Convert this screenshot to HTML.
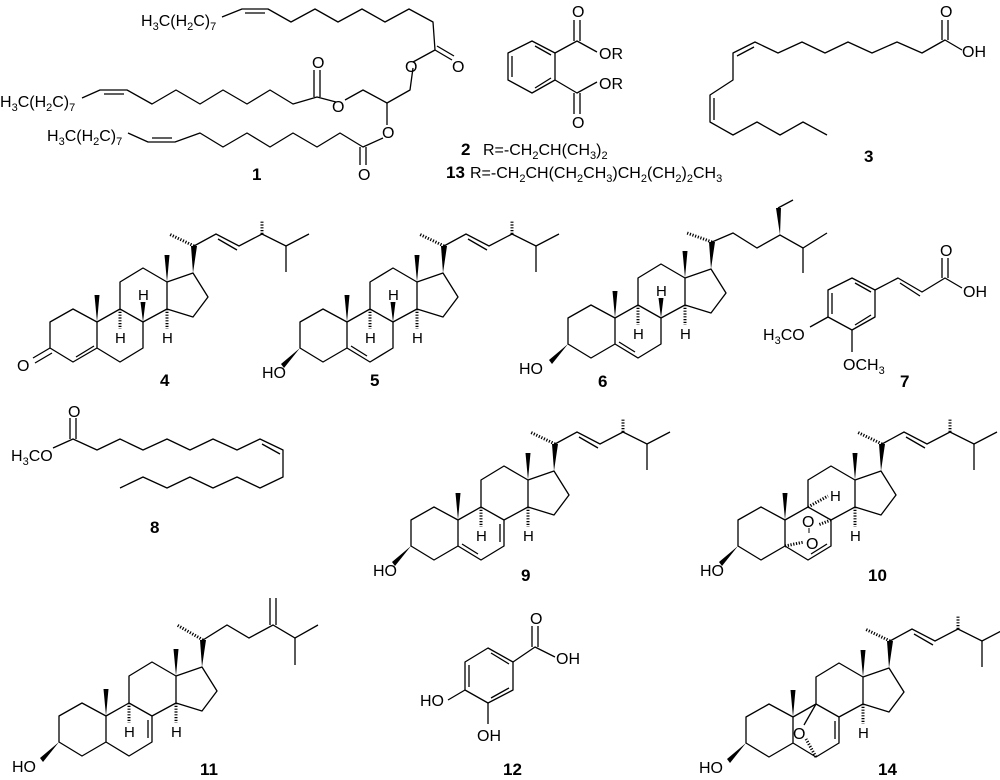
<!DOCTYPE html>
<html><head><meta charset="utf-8"><style>
html,body{margin:0;padding:0;background:#fff;}
svg{display:block;font-family:"Liberation Sans",sans-serif;}
.b{font-weight:bold;font-size:17px;}
.t{font-size:16px;}
.h{font-size:15px;}
</style></head><body>
<svg width="1000" height="780" viewBox="0 0 1000 780" xmlns="http://www.w3.org/2000/svg">
<g fill="none" stroke="#000" stroke-width="1.3" stroke-linejoin="round">
<!-- Compound 1 -->
<polyline points="222,17 242,9 268,9 291,22 315,9 338,22 362,9 385,22 409,9 433,22 435,50 413,62"/>
<line x1="245" y1="13" x2="265" y2="13"/>
<line x1="435" y1="50" x2="452" y2="60"/><line x1="437" y1="46" x2="454" y2="56"/>
<polyline points="413,68 410,90 387,103 363,90 345,100"/>
<polyline points="336,102 317,97 293,104 270,90 247,104 223,90 200,104 176,90 152,104 127,90 100,90 82,98"/>
<line x1="104" y1="94" x2="124" y2="94"/>
<line x1="314" y1="97" x2="314" y2="70"/><line x1="320" y1="97" x2="320" y2="70"/>
<polyline points="387,103 387,125"/>
<polyline points="383,138 363,147 340,133 317,147 293,133 270,147 247,133 223,147 200,133 175,142 148,142 128,133"/>
<line x1="152" y1="138" x2="172" y2="138"/>
<line x1="360" y1="147" x2="360" y2="165"/><line x1="366" y1="147" x2="366" y2="165"/>
<!-- Compound 2 -->
<polygon points="508,53 532,41 555,53 555,80 532,93 508,80"/>
<line x1="512" y1="56" x2="512" y2="77"/><line x1="535" y1="46" x2="551" y2="55"/><line x1="535" y1="88" x2="551" y2="78"/>
<polyline points="555,53 577,41 597,52"/><polyline points="555,80 577,93 597,82"/>
<line x1="574" y1="41" x2="574" y2="20"/><line x1="580" y1="41" x2="580" y2="20"/>
<line x1="574" y1="93" x2="574" y2="114"/><line x1="580" y1="93" x2="580" y2="114"/>
<!-- Compound 3 -->
<polyline points="827,135 803,122 780,135 757,122 733,135 710,122 710,95 733,80 733,53 755,42 778,53 802,42 825,53 848,42 872,53 897,42 922,53 945,40 962,50"/>
<line x1="714" y1="98" x2="714" y2="120"/><line x1="737" y1="56" x2="754" y2="47"/>
<line x1="942" y1="40" x2="942" y2="20"/><line x1="948" y1="40" x2="948" y2="20"/>
<!-- Compound 7 -->
<polygon points="828,290 852,278 875,290 875,317 852,330 828,317"/>
<line x1="832" y1="293" x2="832" y2="314"/><line x1="855" y1="283" x2="871" y2="292"/><line x1="855" y1="325" x2="871" y2="315"/>
<polyline points="875,290 898,278 922,292 945,278 962,288"/>
<line x1="900" y1="283" x2="920" y2="296"/>
<line x1="942" y1="278" x2="942" y2="258"/><line x1="948" y1="278" x2="948" y2="258"/>
<line x1="828" y1="317" x2="810" y2="327"/><line x1="852" y1="330" x2="852" y2="352"/>
<!-- Compound 8 -->
<polyline points="53,448 73,439 97,450 120,439 143,450 167,439 190,450 213,439 237,450 260,439 283,450 283,477 260,488 237,477 213,488 190,477 167,488 143,477 120,488"/>
<line x1="262" y1="444" x2="280" y2="454"/>
<line x1="70" y1="439" x2="70" y2="418"/><line x1="76" y1="439" x2="76" y2="418"/>
<!-- Compound 12 -->
<polygon points="465,662 488,648 513,662 513,690 488,703 465,690"/>
<line x1="469" y1="665" x2="469" y2="687"/><line x1="491" y1="653" x2="509" y2="664"/><line x1="491" y1="698" x2="509" y2="688"/>
<polyline points="513,662 535,647 555,657"/>
<line x1="532" y1="647" x2="532" y2="626"/><line x1="538" y1="647" x2="538" y2="626"/>
<line x1="465" y1="690" x2="448" y2="700"/><line x1="488" y1="703" x2="488" y2="724"/>
</g>

<defs>
<g id="core">
<path d="M73,309 L50,322 L50,348 L73,362 L97,348 L97,322 Z M97,348 L120,362 L143,348 L143,322 L120,309 L97,322 M120,309 L120,282 L143,268 L167,282 L167,309 L143,322 M167,309 L193,317 L208,297 L193,273 L167,282" fill="none" stroke="#000" stroke-width="1.3" stroke-linejoin="round"/>
<polygon points="97,322 94.5,295 99.5,295" fill="#000"/>
<polygon points="167,282 164.5,255 169.5,255" fill="#000"/>
<polygon points="193,273 191,246 197,246" fill="#000"/>
</g>
<g id="erg" fill="none" stroke="#000" stroke-width="1.3">
<polyline points="194,246 216,234 239,246 262,234 286,246 309,234"/>
<line x1="218" y1="239" x2="237" y2="250"/>
<line x1="286" y1="246" x2="286" y2="272"/>
<line x1="194" y1="246" x2="169" y2="234" stroke-width="3" stroke-dasharray="1.2 1.6"/>
<line x1="262" y1="234" x2="262" y2="220" stroke-width="3" stroke-dasharray="1.2 1.6"/>
</g>
<g id="hh" fill="none" stroke="#000">
<line x1="120" y1="309" x2="120" y2="329" stroke-width="3" stroke-dasharray="1.2 1.6"/>
<line x1="167" y1="309" x2="167" y2="329" stroke-width="3" stroke-dasharray="1.2 1.6"/>
</g>
<g id="ho"><polygon points="50,348 31,364 34,368" fill="#000"/></g>
<g id="d56"><line x1="101" y1="346" x2="117" y2="356" stroke="#000" stroke-width="1.3"/></g>
</defs>

<!-- 4 -->
<g>
<use href="#core"/><use href="#erg"/><use href="#hh"/>
<polygon points="143,322 140.5,302 145.5,302" fill="#000"/>
<g stroke="#000" stroke-width="1.3"><line x1="76" y1="357" x2="94" y2="346"/><line x1="50" y1="348" x2="33" y2="358"/><line x1="52" y1="353" x2="35" y2="363"/></g>
</g>
<!-- 5 -->
<g transform="translate(250,0)">
<use href="#core"/><use href="#erg"/><use href="#hh"/><use href="#ho"/><use href="#d56"/>
<polygon points="143,322 140.5,302 145.5,302" fill="#000"/>
</g>
<!-- 6 -->
<g transform="translate(518,-4)">
<use href="#core"/><use href="#hh"/><use href="#ho"/><use href="#d56"/>
<polygon points="143,322 140.5,302 145.5,302" fill="#000"/>
<g fill="none" stroke="#000" stroke-width="1.3">
<polyline points="194,246 215,237 239,252 262,239 285,252 309,237"/>
<line x1="285" y1="252" x2="285" y2="277"/>
<polyline points="260,212 275,204"/>
<line x1="194" y1="246" x2="169" y2="237" stroke-width="3" stroke-dasharray="1.2 1.6"/>
</g>
<polygon points="262,239 258,212 263,212" fill="#000"/>
</g>
<!-- 9 -->
<g transform="translate(361,198)">
<use href="#core"/><use href="#erg"/><use href="#hh"/><use href="#ho"/><use href="#d56"/>
<line x1="139" y1="326" x2="139" y2="344" stroke="#000" stroke-width="1.3"/>
</g>
<!-- 10 -->
<g transform="translate(688,198)">
<use href="#core"/><use href="#erg"/><use href="#ho"/>
<g stroke="#000" fill="none"><line x1="167" y1="309" x2="167" y2="329" stroke-width="3" stroke-dasharray="1.2 1.6"/>
<line x1="120" y1="309" x2="140" y2="298" stroke-width="3" stroke-dasharray="1.2 1.6"/>
<line x1="123" y1="356" x2="139" y2="346" stroke-width="1.3"/>
<line x1="143" y1="322" x2="130" y2="327" stroke-width="3" stroke-dasharray="1.2 1.6"/>
<line x1="97" y1="348" x2="116" y2="344" stroke-width="3" stroke-dasharray="1.2 1.6"/>
<line x1="121" y1="330" x2="121" y2="335" stroke-width="1"/></g>
</g>
<!-- 11 -->
<g transform="translate(9,394)">
<use href="#core"/><use href="#hh"/><use href="#ho"/>
<line x1="139" y1="326" x2="139" y2="344" stroke="#000" stroke-width="1.3"/>
<g fill="none" stroke="#000" stroke-width="1.3">
<polyline points="194,246 218,231 240,244 264,231 286,244 309,231"/>
<line x1="286" y1="244" x2="286" y2="271"/>
<line x1="261" y1="231" x2="261" y2="204"/><line x1="267" y1="231" x2="267" y2="204"/>
<line x1="194" y1="246" x2="168" y2="231" stroke-width="3" stroke-dasharray="1.2 1.6"/>
</g>
</g>
<!-- 14 -->
<g transform="translate(696,395)">
<use href="#core"/><use href="#erg"/><use href="#ho"/>
<g stroke="#000" fill="none"><line x1="167" y1="309" x2="167" y2="329" stroke-width="3" stroke-dasharray="1.2 1.6"/>
<line x1="139" y1="326" x2="139" y2="344" stroke-width="1.3"/>
<line x1="120" y1="309" x2="108" y2="330" stroke-width="1.3"/>
<line x1="120" y1="362" x2="110" y2="344" stroke-width="3" stroke-dasharray="1.2 1.6"/></g>
</g>

<!-- text -->
<g fill="#000">
<text class="t" x="141" y="26">H<tspan font-size="11" dy="4">3</tspan><tspan dy="-4">C(H</tspan><tspan font-size="11" dy="4">2</tspan><tspan dy="-4">C)</tspan><tspan font-size="11" dy="4">7</tspan></text>
<text class="t" x="0" y="107">H<tspan font-size="11" dy="4">3</tspan><tspan dy="-4">C(H</tspan><tspan font-size="11" dy="4">2</tspan><tspan dy="-4">C)</tspan><tspan font-size="11" dy="4">7</tspan></text>
<text class="t" x="47" y="141">H<tspan font-size="11" dy="4">3</tspan><tspan dy="-4">C(H</tspan><tspan font-size="11" dy="4">2</tspan><tspan dy="-4">C)</tspan><tspan font-size="11" dy="4">7</tspan></text>
<text class="t" x="452" y="72">O</text>
<text class="t" x="405" y="72">O</text>
<text class="t" x="312" y="68">O</text>
<text class="t" x="332" y="112">O</text>
<text class="t" x="382" y="138">O</text>
<text class="t" x="358" y="180">O</text>
<text class="b" x="252" y="180">1</text>
<text class="t" x="572" y="17">O</text>
<text class="t" x="599" y="59">OR</text>
<text class="t" x="599" y="89">OR</text>
<text class="t" x="572" y="128">O</text>
<text class="b" x="461" y="155">2</text>
<text class="t" x="483" y="155">R=-CH<tspan font-size="11" dy="4">2</tspan><tspan dy="-4">CH(CH</tspan><tspan font-size="11" dy="4">3</tspan><tspan dy="-4">)</tspan><tspan font-size="11" dy="4">2</tspan></text>
<text class="b" x="446" y="178">13</text>
<text class="t" x="470" y="178">R=-CH<tspan font-size="11" dy="4">2</tspan><tspan dy="-4">CH(CH</tspan><tspan font-size="11" dy="4">2</tspan><tspan dy="-4">CH</tspan><tspan font-size="11" dy="4">3</tspan><tspan dy="-4">)CH</tspan><tspan font-size="11" dy="4">2</tspan><tspan dy="-4">(CH</tspan><tspan font-size="11" dy="4">2</tspan><tspan dy="-4">)</tspan><tspan font-size="11" dy="4">2</tspan><tspan dy="-4">CH</tspan><tspan font-size="11" dy="4">3</tspan></text>
<text class="t" x="940" y="17">O</text>
<text class="t" x="962" y="57">OH</text>
<text class="b" x="864" y="162">3</text>
<!-- 4 -->
<text class="t" x="17" y="371">O</text>
<text class="h" x="138" y="300">H</text><text class="h" x="115" y="343">H</text><text class="h" x="162" y="343">H</text>
<text class="b" x="160" y="386">4</text>
<!-- 5 -->
<text class="t" x="262" y="378">HO</text>
<text class="h" x="388" y="300">H</text><text class="h" x="365" y="343">H</text><text class="h" x="412" y="343">H</text>
<text class="b" x="370" y="386">5</text>
<!-- 6 -->
<text class="t" x="519" y="374">HO</text>
<text class="h" x="656" y="296">H</text><text class="h" x="633" y="339">H</text><text class="h" x="680" y="339">H</text>
<text class="b" x="598" y="387">6</text>
<!-- 7 -->
<text class="t" x="940" y="256">O</text>
<text class="t" x="963" y="297">OH</text>
<text class="t" x="763" y="340">H<tspan font-size="11" dy="4">3</tspan><tspan dy="-4">CO</tspan></text>
<text class="t" x="843" y="370">OCH<tspan font-size="11" dy="4">3</tspan></text>
<text class="b" x="900" y="387">7</text>
<!-- 8 -->
<text class="t" x="68" y="417">O</text>
<text class="t" x="11" y="461">H<tspan font-size="11" dy="4">3</tspan><tspan dy="-4">CO</tspan></text>
<text class="b" x="150" y="533">8</text>
<!-- 9 -->
<text class="t" x="373" y="576">HO</text>
<text class="h" x="476" y="541">H</text><text class="h" x="523" y="541">H</text>
<text class="b" x="521" y="581">9</text>
<!-- 10 -->
<text class="t" x="700" y="576">HO</text>
<text class="h" x="830" y="501">H</text><text class="h" x="850" y="541">H</text>
<text class="t" x="802" y="527">O</text><text class="t" x="806" y="549">O</text>
<text class="b" x="868" y="581">10</text>
<!-- 11 -->
<text class="t" x="12" y="772">HO</text>
<text class="h" x="124" y="737">H</text><text class="h" x="171" y="737">H</text>
<text class="b" x="200" y="775">11</text>
<!-- 12 -->
<text class="t" x="530" y="624">O</text>
<text class="t" x="556" y="664">OH</text>
<text class="t" x="420" y="706">HO</text>
<text class="t" x="477" y="741">OH</text>
<text class="b" x="503" y="775">12</text>
<!-- 14 -->
<text class="t" x="699" y="773">HO</text>
<text class="h" x="858" y="738">H</text>
<text class="t" x="793" y="739">O</text>
<text class="b" x="878" y="775">14</text>
</g>
</svg>
</body></html>
